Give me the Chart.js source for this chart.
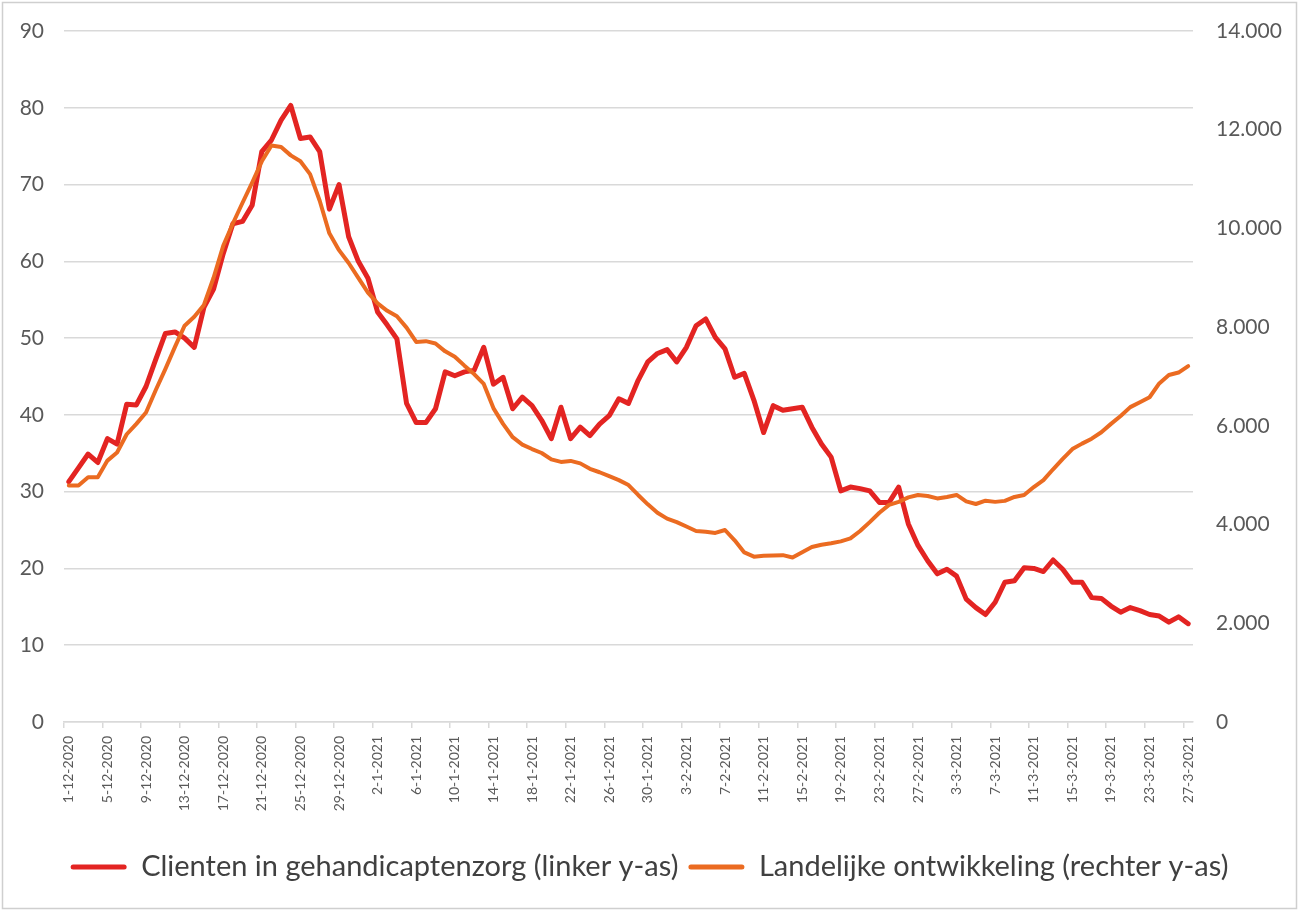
<!DOCTYPE html>
<html>
<head>
<meta charset="utf-8">
<script src="https://cdn.jsdelivr.net/npm/chart.js@4.4.1/dist/chart.umd.min.js"></script>
<style>
html,body{margin:0;padding:0;background:#fff;}
#wrap{position:relative;width:1299px;height:911px;}
canvas{display:block;}
</style>
</head>
<body>
<div id="wrap"><canvas id="c" width="1299" height="911"></canvas></div>
<script>
// Categories (daily dates)
const dateLabels = [
"1-12-2020","2-12-2020","3-12-2020","4-12-2020","5-12-2020","6-12-2020","7-12-2020","8-12-2020","9-12-2020","10-12-2020",
"11-12-2020","12-12-2020","13-12-2020","14-12-2020","15-12-2020","16-12-2020","17-12-2020","18-12-2020","19-12-2020","20-12-2020",
"21-12-2020","22-12-2020","23-12-2020","24-12-2020","25-12-2020","26-12-2020","27-12-2020","28-12-2020","29-12-2020","30-12-2020","31-12-2020",
"1-1-2021","2-1-2021","3-1-2021","4-1-2021","5-1-2021","6-1-2021","7-1-2021","8-1-2021","9-1-2021","10-1-2021",
"11-1-2021","12-1-2021","13-1-2021","14-1-2021","15-1-2021","16-1-2021","17-1-2021","18-1-2021","19-1-2021","20-1-2021",
"21-1-2021","22-1-2021","23-1-2021","24-1-2021","25-1-2021","26-1-2021","27-1-2021","28-1-2021","29-1-2021","30-1-2021","31-1-2021",
"1-2-2021","2-2-2021","3-2-2021","4-2-2021","5-2-2021","6-2-2021","7-2-2021","8-2-2021","9-2-2021","10-2-2021",
"11-2-2021","12-2-2021","13-2-2021","14-2-2021","15-2-2021","16-2-2021","17-2-2021","18-2-2021","19-2-2021","20-2-2021",
"21-2-2021","22-2-2021","23-2-2021","24-2-2021","25-2-2021","26-2-2021","27-2-2021","28-2-2021",
"1-3-2021","2-3-2021","3-3-2021","4-3-2021","5-3-2021","6-3-2021","7-3-2021","8-3-2021","9-3-2021","10-3-2021",
"11-3-2021","12-3-2021","13-3-2021","14-3-2021","15-3-2021","16-3-2021","17-3-2021","18-3-2021","19-3-2021","20-3-2021",
"21-3-2021","22-3-2021","23-3-2021","24-3-2021","25-3-2021","26-3-2021","27-3-2021"
];
const labelEvery = 4;

// Series: clients in disability care (left axis)
const clientenValues = [
31.3,33.1,34.9,33.8,36.9,36.2,41.4,41.3,43.7,47.2,
50.6,50.8,50.0,48.8,54.0,56.4,61.0,64.9,65.2,67.3,
74.3,75.8,78.4,80.3,76.0,76.2,74.3,66.8,70.0,63.2,
60.0,57.8,53.4,51.7,49.9,41.5,39.0,39.0,40.8,45.6,
45.1,45.6,45.8,48.8,44.0,44.9,40.8,42.3,41.2,39.3,
36.9,41.0,36.9,38.4,37.3,38.8,39.9,42.1,41.5,44.5,
46.9,48.0,48.5,46.9,48.8,51.6,52.5,50.1,48.6,44.9,
45.4,41.9,37.7,41.2,40.6,40.8,41.0,38.4,36.2,34.5,
30.1,30.6,30.4,30.1,28.6,28.6,30.6,25.8,23.0,21.0,
19.3,19.9,19.0,16.0,14.9,14.0,15.6,18.2,18.4,20.1,
20.0,19.6,21.1,19.9,18.2,18.2,16.2,16.1,15.1,14.3,
14.9,14.5,14.0,13.8,13.0,13.7,12.8
];

// Series: national development (right axis)
const landelijkValues = [
4790,4790,4958,4958,5296,5460,5830,6040,6270,6720,
7150,7600,8030,8210,8450,9000,9650,10100,10520,10930,
11360,11680,11650,11480,11360,11100,10560,9900,9560,9300,
9000,8700,8480,8330,8220,7990,7700,7716,7670,7510,
7400,7220,7050,6850,6360,6040,5770,5620,5530,5450,
5320,5270,5290,5240,5130,5060,4980,4900,4800,4600,
4410,4240,4120,4050,3960,3870,3855,3830,3890,3680,
3435,3350,3368,3375,3380,3334,3440,3545,3590,3620,
3660,3720,3870,4050,4240,4400,4460,4550,4600,4580,
4530,4560,4600,4470,4417,4484,4460,4480,4560,4600,
4760,4900,5120,5330,5530,5640,5740,5870,6040,6200,
6380,6480,6580,6860,7030,7080,7210
];

const seriesNames = ["Clienten in gehandicaptenzorg (linker y-as)", "Landelijke ontwikkeling (rechter y-as)"];
const leftAxis = {min: 0, max: 90, step: 10};
const rightAxis = {min: 0, max: 14000, step: 2000};

const FONT = "Lato";
const GRID = "#d9d9d9";
const TICKCOL = "#595959";
const CLEAR = "rgba(0,0,0,0)";

function fmtThousands(v){
  if (v === 0) return "0";
  const s = String(Math.round(v));
  return s.replace(/\B(?=(\d{3})+(?!\d))/g, ".");
}

const framePlugin = {
  id: "frame",
  beforeDraw(chart){
    const c = chart.ctx;
    c.save();
    c.fillStyle = "#fff";
    c.fillRect(0,0,chart.width,chart.height);
    c.strokeStyle = "#cfcfcf";
    c.lineWidth = 1.5;
    c.strokeRect(2.5,2.5,chart.width-5,chart.height-5);
    c.restore();
  }
};

new Chart(document.getElementById("c"), {
  type: "line",
  data: {
    labels: dateLabels,
    datasets: [
      {
        label: seriesNames[0],
        data: clientenValues,
        yAxisID: "y",
        borderColor: "#E32422",
        backgroundColor: "#E32422",
        borderWidth: 5,
        pointRadius: 0,
        tension: 0,
        borderJoinStyle: "round",
        borderCapStyle: "round",
        order: 1
      },
      {
        label: seriesNames[1],
        data: landelijkValues,
        yAxisID: "y1",
        borderColor: "#EB6B21",
        backgroundColor: "#EB6B21",
        borderWidth: 4,
        pointRadius: 0,
        tension: 0,
        borderJoinStyle: "round",
        borderCapStyle: "round",
        order: 0
      }
    ]
  },
  options: {
    responsive: false,
    animation: false,
    devicePixelRatio: 1,
    layout: { padding: { top: 31, left: 0, right: 0, bottom: 19.5 } },
    plugins: {
      tooltip: { enabled: false },
      legend: {
        position: "bottom",
        align: "center",
        labels: {
          font: { family: FONT, size: 29 },
          color: "#404040",
          boxWidth: 56,
          boxHeight: 5,
          padding: 10,
          useBorderRadius: true,
          borderRadius: 2.5,
          sort: (a, b) => a.datasetIndex - b.datasetIndex,
          generateLabels: (chart) => Chart.defaults.plugins.legend.labels.generateLabels(chart).map(l => Object.assign({}, l, {lineWidth: 0, fillStyle: l.strokeStyle}))
        }
      }
    },
    scales: {
      x: {
        type: "category",
        offset: true,
        grid: {
          offset: true,
          drawOnChartArea: false,
          drawTicks: true,
          tickLength: 6,
          lineWidth: 1.5,
          color: (ctx) => (ctx.index % labelEvery === 0 ? GRID : CLEAR)
        },
        border: { display: true, color: GRID, width: 1.5 },
        ticks: {
          autoSkip: false,
          maxRotation: 90,
          minRotation: 90,
          padding: 8,
          color: TICKCOL,
          font: { family: FONT, size: 14 },
          callback: (v, i) => (i % labelEvery === 0 ? dateLabels[i] : "")
        },
        afterFit: (s) => { s.height = 120.5; }
      },
      y: {
        position: "left",
        min: leftAxis.min,
        max: leftAxis.max,
        grid: { color: GRID, lineWidth: 1.5, drawTicks: true, tickLength: 16, tickColor: CLEAR },
        border: { display: false },
        ticks: {
          stepSize: leftAxis.step,
          padding: 4,
          color: TICKCOL,
          font: { family: FONT, size: 21 }
        },
        afterFit: (s) => { s.width = 64; }
      },
      y1: {
        position: "right",
        min: rightAxis.min,
        max: rightAxis.max,
        grid: { drawOnChartArea: false, drawTicks: true, tickLength: 19, tickColor: CLEAR },
        border: { display: false },
        ticks: {
          stepSize: rightAxis.step,
          padding: 4,
          color: TICKCOL,
          font: { family: FONT, size: 21 },
          callback: (v) => fmtThousands(v)
        },
        afterFit: (s) => { s.width = 106; }
      }
    }
  },
  plugins: [framePlugin]
});
</script>
</body>
</html>
